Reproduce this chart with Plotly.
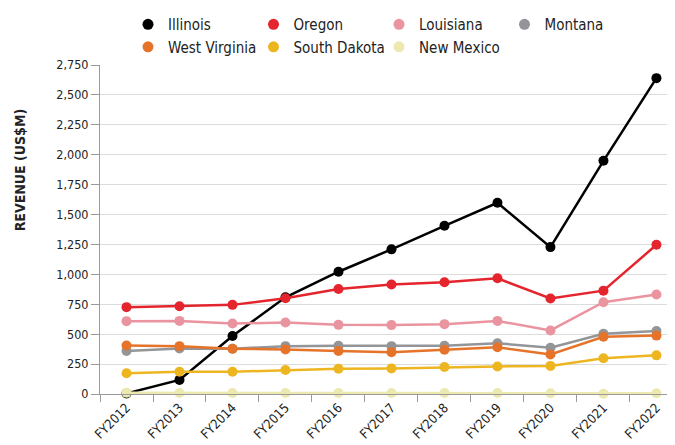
import plotly.graph_objects as go

years = ["FY2012", "FY2013", "FY2014", "FY2015", "FY2016", "FY2017",
         "FY2018", "FY2019", "FY2020", "FY2021", "FY2022"]

illinois = [5, 118, 485, 808, 1022, 1209, 1406, 1598, 1228, 1949, 2640]
oregon = [726, 734, 745, 800, 877, 915, 934, 967, 798, 864, 1247]
louisiana = [609, 611, 589, 597, 578, 576, 584, 611, 531, 767, 831]
montana = [359, 381, 378, 400, 403, 400, 403, 424, 387, 504, 526]
west_virginia = [405, 400, 378, 373, 359, 350, 370, 391, 331, 479, 488]
south_dakota = [173, 186, 186, 200, 211, 214, 225, 230, 235, 299, 323]
new_mexico = [10, 8, 8, 8, 8, 8, 8, 8, 6, 2, 6]

series = [
    ("Illinois", illinois, "#000000"),
    ("Oregon", oregon, "#e4252d"),
    ("Louisiana", louisiana, "#ea94a0"),
    ("Montana", montana, "#939598"),
    ("West Virginia", west_virginia, "#e5732a"),
    ("South Dakota", south_dakota, "#edb620"),
    ("New Mexico", new_mexico, "#ebe8b0"),
]

y_ticks = [0, 250, 500, 750, 1000, 1250, 1500, 1750, 2000, 2250, 2500, 2750]
y_title = "REVENUE (US$M)"

FONT = "DejaVu Sans Condensed, Liberation Sans Narrow, sans-serif"

fig = go.Figure()
for name, vals, color in series:
    fig.add_trace(go.Scatter(
        x=years, y=vals, name=name, mode="lines+markers",
        line=dict(color=color, width=2.5),
        marker=dict(color=color, size=10),
        cliponaxis=False, showlegend=False,
    ))
# legend entries (marker only)
for name, vals, color in series:
    fig.add_trace(go.Scatter(
        x=[None], y=[None], name=name, mode="markers",
        marker=dict(color=color, size=11), showlegend=True,
    ))

fig.add_annotation(
    text="<b>" + y_title + "</b>", textangle=-90,
    xref="paper", yref="paper", x=-0.139, y=0.68,
    xanchor="center", yanchor="middle", showarrow=False,
    font=dict(family=FONT, size=14, color="#222222"),
)

# the page body has an 8px default margin, so the figure is sized to the visible window
fig.update_layout(
    width=667, height=437,
    margin=dict(l=92, r=0, t=51, b=51),
    paper_bgcolor="white", plot_bgcolor="white",
    font=dict(family=FONT, size=13, color="#222222"),
    legend=dict(
        orientation="h", x=0.0487, xanchor="left", y=1.173, yanchor="top",
        font=dict(size=15, color="#222222"),
        entrywidth=80.5, entrywidthmode="pixels",
        itemwidth=30, tracegroupgap=0,
    ),
    xaxis=dict(
        type="category", range=[-0.5, 10.35], automargin=False,
        showgrid=False, showline=True, linecolor="#9a9a9a", linewidth=1,
        ticks="outside", tickson="boundaries", ticklen=7, tickcolor="#9a9a9a",
        tickangle=-45, tickfont=dict(size=13, color="#222222"),
        zeroline=False,
    ),
    yaxis=dict(
        range=[0, 2750], tickvals=y_ticks, tickformat=",", automargin=False,
        showgrid=True, gridcolor="#dcdcdc", gridwidth=1,
        showline=True, linecolor="#9a9a9a", linewidth=1,
        ticks="outside", ticklen=8, tickcolor="#9a9a9a",
        tickfont=dict(size=12.5, color="#222222"),
        zeroline=False,
    ),
)

fig.write_html("out.html")
